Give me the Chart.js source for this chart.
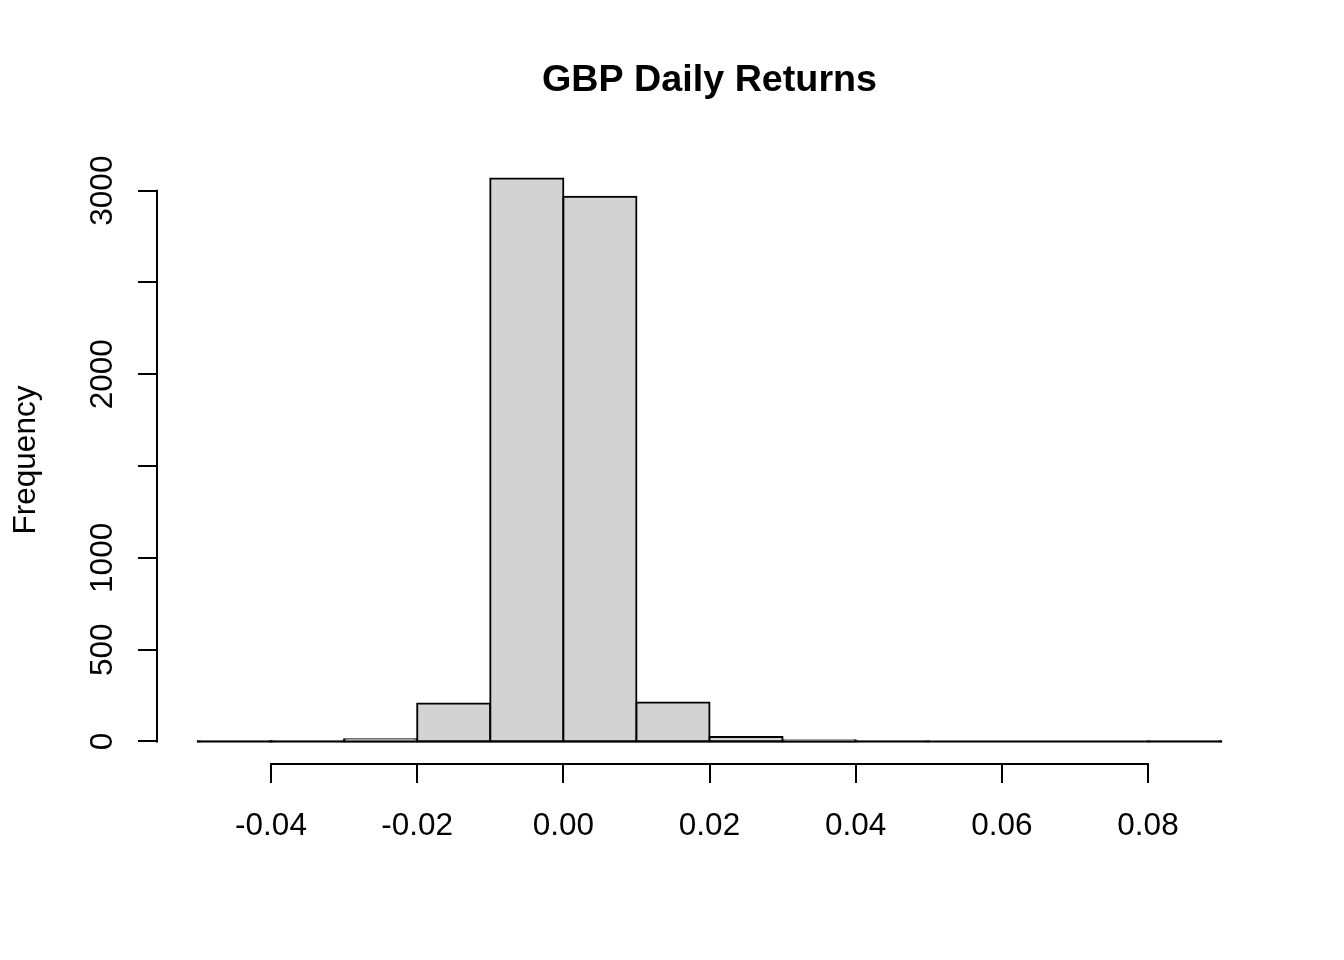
<!DOCTYPE html>
<html>
<head>
<meta charset="utf-8">
<title>GBP Daily Returns</title>
<script src="https://cdn.jsdelivr.net/npm/chart.js@4.4.1/dist/chart.umd.min.js"></script>
<style>
  html, body { margin: 0; padding: 0; background: #fff; }
  #wrap { width: 1344px; height: 960px; }
</style>
</head>
<body>
<div id="wrap"><canvas id="histChart" width="1344" height="960"></canvas></div>
<script>
// histogram bins (width 0.01) and counts
var binStarts = [-0.05, -0.04, -0.03, -0.02, -0.01, 0.00, 0.01, 0.02, 0.03, 0.04, 0.05, 0.06, 0.07, 0.08];
var binWidth = 0.01;
var counts = [1, 1, 12, 207, 3066, 2967, 213, 24, 7, 1, 0, 0, 0, 1];

var xTicks = [-0.04, -0.02, 0.00, 0.02, 0.04, 0.06, 0.08];
var yTicks = [0, 500, 1000, 1500, 2000, 2500, 3000];
var yLabels = ['0', '500', '1000', '', '2000', '', '3000'];

var titleText = 'GBP Daily Returns';
var yTitle = 'Frequency';

var font = '"Liberation Sans", Arial, sans-serif';

var points = [];
for (var i = 0; i < binStarts.length; i++) {
  points.push({ x: binStarts[i] + binWidth / 2, y: counts[i] });
}

// R style axes, drawn from the chart's own scales
var rAxes = {
  id: 'rAxes',
  afterDatasetsDraw: function(chart) {
    var ctx = chart.ctx;
    var xs = chart.scales.x, ys = chart.scales.y;
    var area = chart.chartArea;
    ctx.save();
    ctx.strokeStyle = '#000';
    ctx.fillStyle = '#000';
    ctx.lineWidth = 2;
    ctx.lineCap = 'square';

    // baseline under the bars
    var y0 = ys.getPixelForValue(0);
    ctx.beginPath();
    ctx.moveTo(xs.getPixelForValue(binStarts[0]), y0);
    ctx.lineTo(xs.getPixelForValue(binStarts[binStarts.length - 1] + binWidth), y0);
    ctx.stroke();

    // x axis
    var ax = Math.round(area.bottom);
    ctx.beginPath();
    ctx.moveTo(xs.getPixelForValue(xTicks[0]), ax);
    ctx.lineTo(xs.getPixelForValue(xTicks[xTicks.length - 1]), ax);
    for (var i = 0; i < xTicks.length; i++) {
      var px = Math.round(xs.getPixelForValue(xTicks[i]));
      ctx.moveTo(px, ax);
      ctx.lineTo(px, ax + 18);
    }
    ctx.stroke();
    ctx.font = '31.5px ' + font;
    ctx.textAlign = 'center';
    ctx.textBaseline = 'alphabetic';
    for (var i = 0; i < xTicks.length; i++) {
      ctx.fillText(xTicks[i].toFixed(2), xs.getPixelForValue(xTicks[i]), 835);
    }

    // y axis
    var ay = Math.round(area.left);
    ctx.beginPath();
    ctx.moveTo(ay, ys.getPixelForValue(yTicks[0]));
    ctx.lineTo(ay, ys.getPixelForValue(yTicks[yTicks.length - 1]));
    for (var j = 0; j < yTicks.length; j++) {
      var py = Math.round(ys.getPixelForValue(yTicks[j]));
      ctx.moveTo(ay, py);
      ctx.lineTo(ay - 18, py);
    }
    ctx.stroke();
    for (var j = 0; j < yTicks.length; j++) {
      if (!yLabels[j]) continue;
      ctx.save();
      ctx.translate(112, ys.getPixelForValue(yTicks[j]));
      ctx.rotate(-Math.PI / 2);
      ctx.fillText(yLabels[j], 0, 0);
      ctx.restore();
    }

    // axis title
    ctx.save();
    ctx.translate(35, (area.top + area.bottom) / 2);
    ctx.rotate(-Math.PI / 2);
    ctx.fillText(yTitle, 0, 0);
    ctx.restore();

    // main title
    ctx.font = 'bold 37.7px ' + font;
    ctx.fillText(titleText, (area.left + area.right) / 2, 91);
    ctx.restore();
  }
};

var ctx = document.getElementById('histChart');
var histChart = new Chart(ctx, {
  type: 'bar',
  data: {
    datasets: [{
      label: 'Frequency',
      data: points,
      backgroundColor: '#D3D3D3',
      borderColor: '#000',
      borderWidth: 2,
      borderSkipped: false,
      inflateAmount: 1,
      barPercentage: 1,
      categoryPercentage: 1
    }]
  },
  options: {
    responsive: false,
    animation: false,
    devicePixelRatio: 1,
    layout: { padding: { left: 157, right: 82, top: 156, bottom: 196 } },
    plugins: {
      legend: { display: false },
      title: { display: false },
      tooltip: { enabled: false }
    },
    scales: {
      x: { type: 'linear', display: false, min: -0.0556, max: 0.0956, offset: false },
      y: { type: 'linear', display: false, min: -122.6, max: 3188.6 }
    }
  },
  plugins: [rAxes]
});
</script>
</body>
</html>
